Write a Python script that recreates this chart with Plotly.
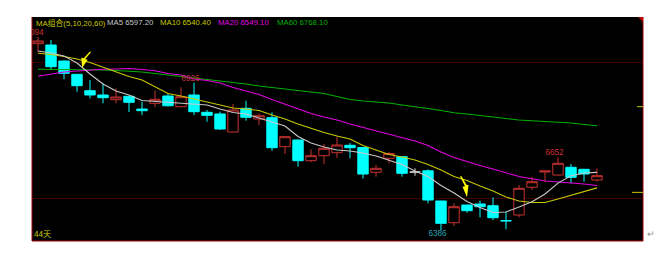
import plotly.graph_objects as go

# ---------------- data ----------------
days = list(range(44))
opens = [7069.0, 7064.2, 7005.6, 6956.8, 6896.7, 6880.9, 6863.7, 6876.2, 6829.6, 6850.5,
         6877.3, 6838.0, 6880.9, 6817.5, 6811.3, 6745.3, 6832.2, 6792.9, 6797.7, 6691.4,
         6716.0, 6640.1, 6658.4, 6669.4, 6696.5, 6688.5, 6597.6, 6648.9, 6654.7, 6598.6,
         6603.0, 6492.3, 6412.8, 6477.7, 6481.3, 6475.1, 6420.8, 6441.0, 6542.6, 6598.6,
         6587.6, 6615.9, 6608.5, 6569.3]
highs = [7094.0, 7082.6, 7008.0, 6958.0, 6935.9, 6923.8, 6905.5, 6878.0, 6856.4, 6896.7,
         6887.2, 6909.2, 6926.0, 6825.9, 6819.7, 6847.9, 6860.0, 6813.8, 6817.5, 6729.0,
         6717.0, 6681.9, 6701.3, 6728.1, 6705.0, 6690.0, 6624.3, 6673.1, 6656.0, 6612.6,
         6608.5, 6493.0, 6483.9, 6478.0, 6493.4, 6505.9, 6453.1, 6551.0, 6581.4, 6603.0,
         6652.0, 6628.0, 6610.0, 6612.2]
lows = [7039.7, 6972.6, 6938.5, 6893.0, 6868.8, 6850.5, 6850.5, 6818.6, 6807.6, 6835.8,
        6838.0, 6836.0, 6807.6, 6783.0, 6752.6, 6744.0, 6786.7, 6770.9, 6676.7, 6664.6,
        6618.1, 6634.2, 6628.0, 6650.0, 6648.9, 6574.5, 6581.4, 6630.5, 6581.4, 6584.7,
        6483.9, 6386.0, 6400.7, 6449.4, 6432.6, 6422.7, 6388.6, 6432.6, 6532.7, 6563.1,
        6586.0, 6557.2, 6563.1, 6563.0]
closes = [7078.9, 6984.7, 6960.5, 6915.0, 6880.9, 6871.0, 6873.6, 6854.2, 6823.4, 6865.2,
          6841.7, 6874.7, 6819.7, 6806.5, 6756.3, 6825.9, 6799.2, 6805.0, 6687.7, 6728.1,
          6640.1, 6658.4, 6685.5, 6697.6, 6687.7, 6591.3, 6612.2, 6666.5, 6593.9, 6598.6,
          6496.0, 6410.6, 6471.4, 6456.8, 6471.4, 6431.1, 6419.5, 6538.9, 6563.1, 6602.3,
          6630.5, 6579.2, 6591.3, 6585.1]

ma5 = [7042.2, 7034.9, 7023.9, 6998.2, 6957.9, 6921.3, 6895.6, 6880.9, 6860.8, 6857.1,
       6853.4, 6849.8, 6847.9, 6844.3, 6829.6, 6816.8, 6811.3, 6796.6, 6781.9, 6767.3,
       6728.8, 6705.0, 6690.3, 6679.3, 6675.6, 6668.3, 6657.3, 6642.6, 6626.1, 6602.3,
       6582.2, 6549.2, 6521.7, 6490.5, 6468.5, 6450.2, 6452.0, 6470.3, 6490.0, 6518.0,
       6558.0, 6585.0, 6595.0, 6597.2]
ma10 = [7033.8, 7029.4, 7022.1, 7012.9, 7000.1, 6983.6, 6966.3, 6948.8, 6935.9, 6910.3,
        6886.4, 6877.3, 6866.3, 6855.3, 6842.4, 6833.3, 6829.6, 6824.1, 6807.6, 6792.9,
        6774.6, 6758.1, 6743.5, 6730.6, 6719.6, 6695.8, 6679.3, 6662.8, 6653.6, 6642.6,
        6626.1, 6606.0, 6582.2, 6567.5, 6547.3, 6529.0, 6507.0, 6492.3, 6486.8, 6486.8,
        6499.7, 6512.5, 6527.2, 6540.4]
ma20 = [6949.5, 6957.9, 6965.2, 6968.9, 6972.6, 6975.1, 6976.2, 6978.1, 6974.4, 6970.0,
        6959.7, 6954.2, 6939.6, 6934.1, 6924.9, 6908.4, 6895.6, 6882.8, 6864.4, 6847.9,
        6829.6, 6813.1, 6800.3, 6789.3, 6774.6, 6761.8, 6750.8, 6738.0, 6725.1, 6712.3,
        6695.8, 6672.0, 6651.8, 6636.4, 6622.5, 6609.6, 6596.8, 6582.2, 6573.7, 6565.7,
        6562.0, 6559.4, 6554.7, 6549.1]
ma60 = [6975.1, 6975.1, 6975.1, 6974.4, 6974.4, 6972.6, 6970.7, 6968.9, 6965.2, 6959.7,
        6954.2, 6948.8, 6943.3, 6939.6, 6932.3, 6928.6, 6921.3, 6913.9, 6908.4, 6904.8,
        6899.3, 6893.8, 6886.4, 6875.4, 6864.4, 6858.9, 6855.3, 6851.6, 6844.3, 6838.8,
        6831.4, 6824.1, 6816.0, 6811.3, 6805.0, 6799.2, 6794.8, 6789.3, 6786.7, 6784.5,
        6782.0, 6778.3, 6772.8, 6768.1]

high_label_days = [0, 12, 40]
low_label_days = [31]
arrow_marks = [(3.4, 6981.0, "down_left"), (33.0, 6506.0, "down_right")]
right_marks = [6838.0, 6524.0]
grid_levels = [6500, 7000]
period_label = "44天"
ma_title = "MA组合(5,10,20,60)"

# ---------------- styling ----------------
RED = "#c83232"
CYAN = "#00ffff"
GRAY = "#c8c8c8"
YEL = "#c8c800"
MAG = "#e000e0"
GRN = "#00b000"
FONT = "Liberation Sans, Arial, Noto Sans CJK SC, sans-serif"
FS = 7.8
LABEL_FS = 8.2
LABEL_DX = -0.27   # labels sit slightly left of their candle

fig = go.Figure()


def candle(ids, line_color, fill):
    side = dict(line=dict(color=line_color, width=1), fillcolor=fill)
    return go.Candlestick(
        x=ids,
        open=[opens[i] for i in ids], high=[highs[i] for i in ids],
        low=[lows[i] for i in ids], close=[closes[i] for i in ids],
        increasing=side, decreasing=side, whiskerwidth=0,
        showlegend=False, hoverinfo="skip")


up = [i for i in days if closes[i] > opens[i]]
dn = [i for i in days if closes[i] < opens[i]]
fl = [i for i in days if closes[i] == opens[i]]
fig.add_trace(candle(up, RED, "#000000"))
fig.add_trace(candle(dn, CYAN, CYAN))
if fl:
    fig.add_trace(candle(fl, "#d0d0d0", "#d0d0d0"))

for vals, col in [(ma60, GRN), (ma20, MAG), (ma10, YEL), (ma5, GRAY)]:
    fig.add_trace(go.Scatter(x=days, y=vals, mode="lines", line=dict(color=col, width=1.1),
                             showlegend=False, hoverinfo="skip"))

fig.add_trace(go.Scatter(x=[d + LABEL_DX for d in high_label_days], y=[highs[i] for i in high_label_days],
                         mode="text", text=[f"{highs[i]:.0f}" for i in high_label_days],
                         textposition="top center",
                         textfont=dict(color=RED, size=LABEL_FS, family=FONT), cliponaxis=True,
                         showlegend=False, hoverinfo="skip"))
fig.add_trace(go.Scatter(x=[d + LABEL_DX for d in low_label_days], y=[lows[i] for i in low_label_days],
                         mode="text", text=[f"{lows[i]:.0f}" for i in low_label_days],
                         textposition="bottom center",
                         textfont=dict(color="#28a0b4", size=LABEL_FS, family=FONT), cliponaxis=True,
                         showlegend=False, hoverinfo="skip"))

shapes = []
# frame lines
for sx0, sx1, sy0, sy1 in [(0, 0, 0, 1), (0, 1, 0, 0), (1, 1, 0, 1)]:
    shapes.append(dict(type="line", xref="paper", yref="paper", x0=sx0, x1=sx1, y0=sy0, y1=sy1,
                       line=dict(color="#a00000", width=1), layer="above"))
# lightning arrows
bolt_left = "M 9,16 L 3,8.5 L 5.5,8 L 0,0 L -1,10 L 1.5,9.5 L 7.5,16 Z"
bolt_right = "M -7,21 L -2,11 L -4.5,10.5 L 0,0 L 1.5,12 L -0.5,12.5 L -5.5,21 Z"
for ax_, ay_, kind in arrow_marks:
    shapes.append(dict(type="path", xref="x", yref="y", xsizemode="pixel", ysizemode="pixel",
                       xanchor=ax_, yanchor=ay_, path=bolt_left if kind == "down_left" else bolt_right,
                       fillcolor="#ffff00", line=dict(width=0), layer="above"))
# right-edge marks
for k, lv in enumerate(right_marks):
    shapes.append(dict(type="line", xref="paper", yref="y", xsizemode="pixel", xanchor=1,
                       x0=-6 if k == 0 else -11, x1=0, y0=lv, y1=lv,
                       line=dict(color=YEL, width=1), layer="above"))
shapes.append(dict(type="path", xref="paper", yref="paper", xsizemode="pixel", ysizemode="pixel",
                   xanchor=1, yanchor=1, path="M -5,0 L 0,0 L 0,-5 Z", fillcolor="#c00000",
                   line=dict(width=0), layer="above"))

annotations = []
header = [(ma_title, YEL, 0.0028),
          (f"MA5 {ma5[-1]:.2f}", GRAY, 0.119),
          (f"MA10 {ma10[-1]:.2f}", YEL, 0.2062),
          (f"MA20 {ma20[-1]:.2f}", MAG, 0.3011),
          (f"MA60 {ma60[-1]:.2f}", GRN, 0.3977)]
for txt, col, px in header:
    annotations.append(dict(text=txt, xref="paper", yref="paper", x=px, y=1, xanchor="left",
                            yanchor="top", yshift=1, showarrow=False,
                            font=dict(color=col, size=FS, family=FONT)))
annotations.append(dict(text=period_label, xref="paper", yref="paper", x=0, y=0, xanchor="left",
                        yanchor="bottom", showarrow=False, font=dict(color=YEL, size=LABEL_FS, family=FONT)))
annotations.append(dict(text="↵", xref="paper", yref="paper", x=1.003, y=0, xanchor="left",
                        yanchor="bottom", showarrow=False, font=dict(color="#909090", size=9, family=FONT)))

fig.update_layout(
    width=657, height=254,
    margin=dict(l=32, r=14, t=17, b=13),
    paper_bgcolor="#ffffff", plot_bgcolor="#000000",
    boxgap=0.2, boxgroupgap=0,
    shapes=shapes, annotations=annotations,
    xaxis=dict(range=[-0.4615, 46.538], showgrid=False, zeroline=False, showticklabels=False,
               ticks="", rangeslider=dict(visible=False), fixedrange=True),
    yaxis=dict(range=[6345.7, 7166.9], tickvals=grid_levels, showgrid=True, gridcolor="#420000",
               gridwidth=1, zeroline=False, showticklabels=False, ticks="", fixedrange=True),
)

fig.write_html("out.html")
